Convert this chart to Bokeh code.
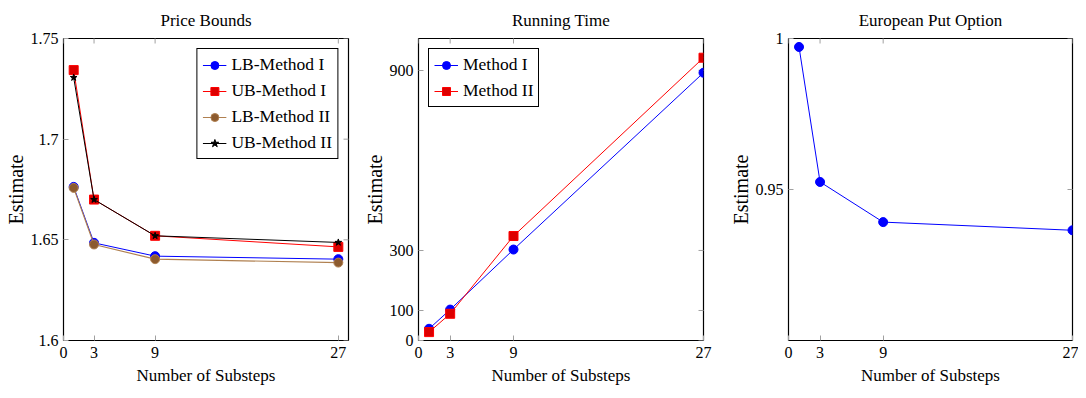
import math
from bokeh.plotting import figure
from bokeh.layouts import row
from bokeh.models import FixedTicker, Range1d, Legend, LegendItem
from bokeh.embed import file_html
from bokeh.resources import INLINE

# ---- data ----
substeps = [1, 3, 9, 27]
x_ticks = [0, 3, 9, 27]

lb_method1 = [1.6763, 1.6485, 1.6419, 1.6404]
ub_method1 = [1.7343, 1.6700, 1.6520, 1.6465]
lb_method2 = [1.6758, 1.6477, 1.6404, 1.6387]
ub_method2 = [1.7306, 1.6700, 1.6520, 1.6487]
price_y_ticks = [1.6, 1.65, 1.7, 1.75]
price_y_labels = ["1.6", "1.65", "1.7", "1.75"]

time_method1 = [39, 103, 303, 892]
time_method2 = [28, 89, 348, 942]
time_y_ticks = [0, 100, 300, 900]

put_values = [0.9972, 0.9525, 0.9392, 0.9365]
put_y_ticks = [0.95, 1.0]
put_y_labels = ["0.95", "1"]

FONT = "Liberation Serif"
TICK_COLOR = "#a0a0a0"
BLUE = "#0000ff"
RED = "#ff0000"
BROWN_LINE = "#b08050"
BROWN_FILL = "#8c5a2e"


def make_fig(title, xr, yr, fw, left, right, xticks, yticks, ylabels=None):
    p = figure(frame_width=fw, frame_height=302, output_backend="svg", toolbar_location=None,
               x_range=Range1d(*xr), y_range=Range1d(*yr),
               min_border_left=left, min_border_right=right,
               min_border_top=38, min_border_bottom=50,
               title=title)
    p.title.text_font = FONT
    p.title.text_font_style = "normal"
    p.title.text_font_size = "17px"
    p.title.align = "center"
    p.title.vertical_align = "bottom"
    p.title.text_color = "black"
    p.title.standoff = 17
    p.grid.visible = False
    p.outline_line_color = "black"
    p.outline_line_width = 1.2
    p.outline_line_alpha = 1.0
    p.background_fill_color = "white"
    p.border_fill_color = "white"

    for ax in p.xaxis:
        ax.ticker = FixedTicker(ticks=xticks)
        ax.axis_label = "Number of Substeps"
        ax.axis_label_text_font_size = "17px"
        ax.axis_label_standoff = 5
        ax.major_label_standoff = 6
    for ax in p.yaxis:
        ax.ticker = FixedTicker(ticks=yticks)
        ax.axis_label = "Estimate"
        if ylabels is not None:
            ax.major_label_overrides = {t: l for t, l in zip(yticks, ylabels)}
        ax.axis_label_text_font_size = "20px"
        ax.axis_label_standoff = 1
        ax.major_label_standoff = 5
    for ax in list(p.xaxis) + list(p.yaxis):
        ax.axis_line_color = None
        ax.major_tick_in = 5
        ax.major_tick_out = 0
        ax.minor_tick_line_color = None
        ax.major_tick_line_color = TICK_COLOR
        ax.major_label_text_font = FONT
        ax.major_label_text_font_size = "16px"
        ax.major_label_text_color = "black"
        ax.axis_label_text_font = FONT
        ax.axis_label_text_font_style = "normal"
        ax.axis_label_text_color = "black"

    # mirrored inward ticks on the top and right edges (half of each dash is clipped by the frame)
    p.scatter(xticks, [yr[1]] * len(xticks), marker="dash", size=10, angle=math.pi / 2,
              line_color=TICK_COLOR, line_width=1)
    p.scatter([xr[1]] * len(yticks), yticks, marker="dash", size=10,
              line_color=TICK_COLOR, line_width=1)
    return p


def style_legend(p, items, location):
    leg = Legend(items=items, location=location)
    leg.label_text_font = FONT
    leg.label_text_font_size = "17.5px"
    leg.label_text_color = "black"
    leg.border_line_color = "black"
    leg.border_line_width = 1.2
    leg.border_line_alpha = 1.0
    leg.background_fill_alpha = 1.0
    leg.glyph_width = 24
    leg.glyph_height = 20
    leg.label_height = 20
    leg.spacing = 5
    leg.padding = 5
    leg.margin = 10
    leg.label_standoff = 5
    p.add_layout(leg)


# ---- Panel 1: Price Bounds ----
p1 = make_fig("Price Bounds", (0, 28), (1.6, 1.75), 285, 63, 10,
              x_ticks, price_y_ticks, price_y_labels)
l1 = p1.line(substeps, lb_method1, line_color=BLUE, line_width=1)
m1 = p1.scatter(substeps, lb_method1, marker="circle", size=9, fill_color=BLUE, line_color=BLUE)
l2 = p1.line(substeps, ub_method1, line_color=RED, line_width=1)
m2 = p1.scatter(substeps, ub_method1, marker="square", size=9, fill_color="#dd0000", line_color=RED)
l3 = p1.line(substeps, lb_method2, line_color=BROWN_LINE, line_width=1.2)
m3 = p1.scatter(substeps, lb_method2, marker="circle", size=9, fill_color=BROWN_FILL, line_color=BROWN_LINE)
l4 = p1.line(substeps, ub_method2, line_color="black", line_width=1)
m4 = p1.scatter(substeps, ub_method2, marker="star", size=7, fill_color="black", line_color="black")
style_legend(p1, [
    LegendItem(label="LB-Method I", renderers=[l1, m1]),
    LegendItem(label="UB-Method I", renderers=[l2, m2]),
    LegendItem(label="LB-Method II", renderers=[l3, m3]),
    LegendItem(label="UB-Method II", renderers=[l4, m4]),
], "top_right")

# ---- Panel 2: Running Time ----
p2 = make_fig("Running Time", (0, 27), (0, 1006), 285, 60, 10,
              x_ticks, time_y_ticks)
k1 = p2.line(substeps, time_method1, line_color=BLUE, line_width=1)
n1 = p2.scatter(substeps, time_method1, marker="circle", size=9, fill_color=BLUE, line_color=BLUE)
k2 = p2.line(substeps, time_method2, line_color=RED, line_width=1)
n2 = p2.scatter(substeps, time_method2, marker="square", size=9, fill_color="#dd0000", line_color=RED)
style_legend(p2, [
    LegendItem(label="Method I", renderers=[k1, n1]),
    LegendItem(label="Method II", renderers=[k2, n2]),
], "top_left")

# ---- Panel 3: European Put Option ----
p3 = make_fig("European Put Option", (0, 27), (0.9, 1.0), 284, 75, 6,
              x_ticks, put_y_ticks, put_y_labels)
p3.line(substeps, put_values, line_color=BLUE, line_width=1)
p3.scatter(substeps, put_values, marker="circle", size=9, fill_color=BLUE, line_color=BLUE)

layout = row(p1, p2, p3, spacing=0)
open("out.html", "w").write(file_html(layout, INLINE))
